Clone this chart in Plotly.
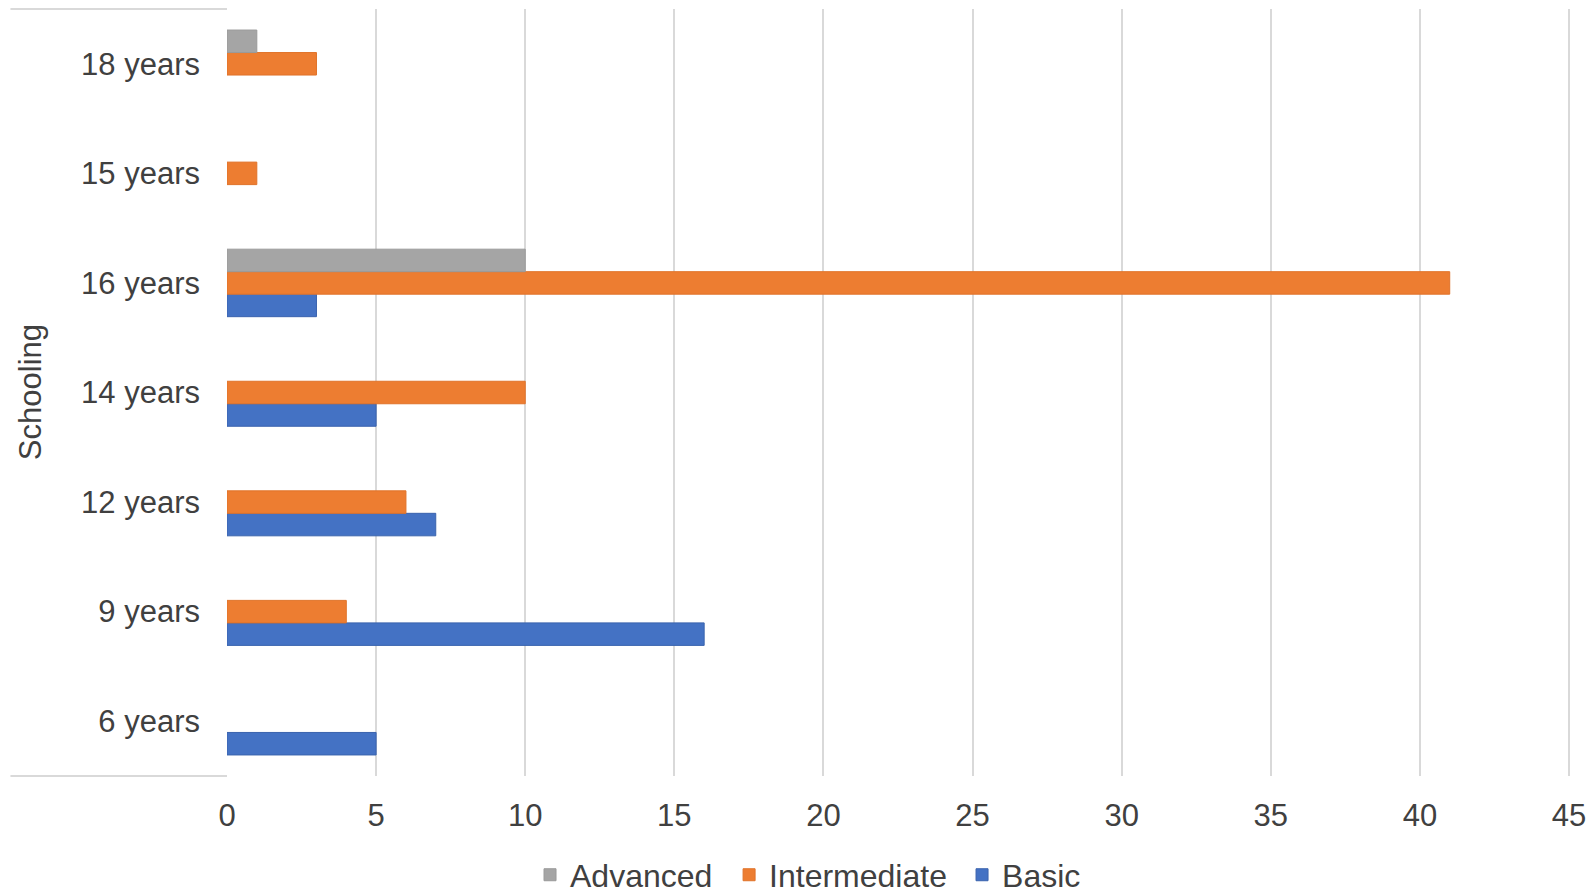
import plotly.graph_objects as go

# schooling levels, bottom to top as in the chart
schooling = ["6 years", "9 years", "12 years", "14 years", "16 years", "15 years", "18 years"]

# counts per level of knowledge (None = no bar drawn)
basic = [5, 16, 7, 5, 3, None, None]
intermediate = [None, 4, 6, 10, 41, 1, 3]
advanced = [None, None, None, None, 10, None, 1]

x_ticks = [0, 5, 10, 15, 20, 25, 30, 35, 40, 45]

text_color = "#404040"
grid_color = "#D9D9D9"
font_family = "Liberation Sans, Arial, sans-serif"

fig = go.Figure()

# first trace ends up at the bottom of each group
fig.add_trace(go.Bar(
    y=schooling, x=basic, name="Basic", orientation="h", legend="legend3",
    marker=dict(color="#4472C4", line=dict(color="#3A63AD", width=1)),
))
fig.add_trace(go.Bar(
    y=schooling, x=intermediate, name="Intermediate", orientation="h", legend="legend2",
    marker=dict(color="#ED7D31", line=dict(color="#E0732A", width=1)),
))
fig.add_trace(go.Bar(
    y=schooling, x=advanced, name="Advanced", orientation="h", legend="legend",
    marker=dict(color="#A5A5A5", line=dict(color="#9A9A9A", width=1)),
))

# one legend per entry so the spacing can follow the reference
legend_y = -0.129
legend_style = dict(orientation="h", xanchor="left", y=legend_y, yanchor="middle",
                    font=dict(size=32, color=text_color), itemwidth=30)

fig.update_layout(
    width=1595,
    height=893,
    paper_bgcolor="white",
    plot_bgcolor="white",
    barmode="group",
    bargap=0.384,
    bargroupgap=0,
    # a little extra room past 45 so its gridline is not clipped
    margin=dict(l=227, r=23, t=9, b=117, autoexpand=False),
    font=dict(family=font_family, size=31, color=text_color),
    showlegend=True,
    legend=dict(x=0.2253, **legend_style),
    legend2=dict(x=0.3733, **legend_style),
    legend3=dict(x=0.5465, **legend_style),
    xaxis=dict(
        range=[0, 45.1],
        tickvals=x_ticks,
        showgrid=True,
        gridcolor=grid_color,
        gridwidth=2,
        zeroline=False,
        showline=False,
        ticks="",
        ticklabelstandoff=18,
        tickfont=dict(size=31, color=text_color),
        fixedrange=True,
    ),
    yaxis=dict(
        type="category",
        categoryorder="array",
        categoryarray=schooling,
        showgrid=False,
        zeroline=False,
        showline=False,
        ticks="",
        ticklabelstandoff=26,
        tickfont=dict(size=31, color=text_color),
        fixedrange=True,
    ),
    annotations=[
        dict(
            text="Schooling",
            xref="paper", yref="paper",
            x=-0.146, y=0.5,
            xanchor="center", yanchor="middle",
            textangle=-90,
            showarrow=False,
            font=dict(size=31, color=text_color),
        )
    ],
    shapes=[
        # short border lines around the category label area
        dict(type="line", xref="paper", yref="paper", x0=-0.161, x1=0, y0=1, y1=1,
             line=dict(color=grid_color, width=2)),
        dict(type="line", xref="paper", yref="paper", x0=-0.161, x1=0, y0=0, y1=0,
             line=dict(color=grid_color, width=2)),
    ],
)

fig.write_html(
    "out.html",
    config={"displayModeBar": False},
    post_script="document.body.style.margin='0';document.body.style.overflow='hidden';",
)
